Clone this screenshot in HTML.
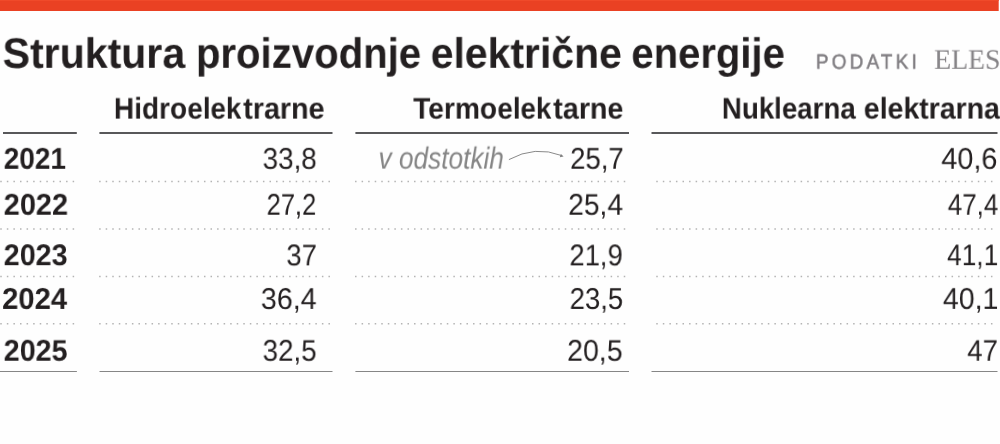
<!DOCTYPE html>
<html><head><meta charset="utf-8"><title>Struktura proizvodnje električne energije</title>
<style>
html,body{margin:0;padding:0;}
body{width:1000px;height:444px;background:#fefefe;position:relative;overflow:hidden;font-family:"Liberation Sans",sans-serif;color:#231f20;}
.t{position:absolute;white-space:nowrap;line-height:1;transform-origin:0 0;will-change:transform;text-rendering:geometricPrecision;}
svg{position:absolute;left:0;top:0;}
</style></head><body>
<svg width="1000" height="444" viewBox="0 0 1000 444">
<rect x="0" y="0" width="998.7" height="11" fill="#ea4123"/>
<rect x="0" y="0" width="998.7" height="1" fill="#f04a2a"/>
<path d="M3.0,133H76.8 M99.4,133H332.5 M355.4,133H629 M651.5,133H997.5" stroke="#58585a" stroke-width="1.8" fill="none"/>
<path d="M0,371.5H76.9 M99.5,371.5H332.5 M355.4,371.5H629 M651.5,371.5H997.5" stroke="#868686" stroke-width="1" fill="none"/>
<path d="M0.25,181.6h1.5 M6.83,181.6h1.5 M13.41,181.6h1.5 M20.00,181.6h1.5 M26.58,181.6h1.5 M33.16,181.6h1.5 M39.74,181.6h1.5 M46.32,181.6h1.5 M52.90,181.6h1.5 M59.49,181.6h1.5 M66.07,181.6h1.5 M72.65,181.6h1.5 M99.15,181.6h1.5 M105.70,181.6h1.5 M112.25,181.6h1.5 M118.80,181.6h1.5 M125.36,181.6h1.5 M131.91,181.6h1.5 M138.46,181.6h1.5 M145.01,181.6h1.5 M151.56,181.6h1.5 M158.11,181.6h1.5 M164.66,181.6h1.5 M171.22,181.6h1.5 M177.77,181.6h1.5 M184.32,181.6h1.5 M190.87,181.6h1.5 M197.42,181.6h1.5 M203.97,181.6h1.5 M210.52,181.6h1.5 M217.08,181.6h1.5 M223.63,181.6h1.5 M230.18,181.6h1.5 M236.73,181.6h1.5 M243.28,181.6h1.5 M249.83,181.6h1.5 M256.38,181.6h1.5 M262.94,181.6h1.5 M269.49,181.6h1.5 M276.04,181.6h1.5 M282.59,181.6h1.5 M289.14,181.6h1.5 M295.69,181.6h1.5 M302.24,181.6h1.5 M308.80,181.6h1.5 M315.35,181.6h1.5 M321.90,181.6h1.5 M328.45,181.6h1.5 M355.05,181.6h1.5 M361.60,181.6h1.5 M368.16,181.6h1.5 M374.71,181.6h1.5 M381.26,181.6h1.5 M387.82,181.6h1.5 M394.37,181.6h1.5 M400.93,181.6h1.5 M407.48,181.6h1.5 M414.03,181.6h1.5 M420.59,181.6h1.5 M427.14,181.6h1.5 M433.69,181.6h1.5 M440.25,181.6h1.5 M446.80,181.6h1.5 M453.35,181.6h1.5 M459.91,181.6h1.5 M466.46,181.6h1.5 M473.02,181.6h1.5 M479.57,181.6h1.5 M486.12,181.6h1.5 M492.68,181.6h1.5 M499.23,181.6h1.5 M505.78,181.6h1.5 M512.34,181.6h1.5 M518.89,181.6h1.5 M525.45,181.6h1.5 M532.00,181.6h1.5 M538.55,181.6h1.5 M545.11,181.6h1.5 M551.66,181.6h1.5 M558.21,181.6h1.5 M564.77,181.6h1.5 M571.32,181.6h1.5 M577.87,181.6h1.5 M584.43,181.6h1.5 M590.98,181.6h1.5 M597.54,181.6h1.5 M604.09,181.6h1.5 M610.64,181.6h1.5 M617.20,181.6h1.5 M623.75,181.6h1.5 M656.25,181.6h1.5 M662.81,181.6h1.5 M669.38,181.6h1.5 M675.94,181.6h1.5 M682.50,181.6h1.5 M689.06,181.6h1.5 M695.63,181.6h1.5 M702.19,181.6h1.5 M708.75,181.6h1.5 M715.31,181.6h1.5 M721.88,181.6h1.5 M728.44,181.6h1.5 M735.00,181.6h1.5 M741.57,181.6h1.5 M748.13,181.6h1.5 M754.69,181.6h1.5 M761.25,181.6h1.5 M767.82,181.6h1.5 M774.38,181.6h1.5 M780.94,181.6h1.5 M787.50,181.6h1.5 M794.07,181.6h1.5 M800.63,181.6h1.5 M807.19,181.6h1.5 M813.76,181.6h1.5 M820.32,181.6h1.5 M826.88,181.6h1.5 M833.44,181.6h1.5 M840.01,181.6h1.5 M846.57,181.6h1.5 M853.13,181.6h1.5 M859.70,181.6h1.5 M866.26,181.6h1.5 M872.82,181.6h1.5 M879.38,181.6h1.5 M885.95,181.6h1.5 M892.51,181.6h1.5 M899.07,181.6h1.5 M905.63,181.6h1.5 M912.20,181.6h1.5 M918.76,181.6h1.5 M925.32,181.6h1.5 M931.89,181.6h1.5 M938.45,181.6h1.5 M945.01,181.6h1.5 M951.57,181.6h1.5 M958.14,181.6h1.5 M964.70,181.6h1.5 M971.26,181.6h1.5 M977.82,181.6h1.5 M984.39,181.6h1.5 M990.95,181.6h1.5 M0.25,228.9h1.5 M6.83,228.9h1.5 M13.41,228.9h1.5 M20.00,228.9h1.5 M26.58,228.9h1.5 M33.16,228.9h1.5 M39.74,228.9h1.5 M46.32,228.9h1.5 M52.90,228.9h1.5 M59.49,228.9h1.5 M66.07,228.9h1.5 M72.65,228.9h1.5 M99.15,228.9h1.5 M105.70,228.9h1.5 M112.25,228.9h1.5 M118.80,228.9h1.5 M125.36,228.9h1.5 M131.91,228.9h1.5 M138.46,228.9h1.5 M145.01,228.9h1.5 M151.56,228.9h1.5 M158.11,228.9h1.5 M164.66,228.9h1.5 M171.22,228.9h1.5 M177.77,228.9h1.5 M184.32,228.9h1.5 M190.87,228.9h1.5 M197.42,228.9h1.5 M203.97,228.9h1.5 M210.52,228.9h1.5 M217.08,228.9h1.5 M223.63,228.9h1.5 M230.18,228.9h1.5 M236.73,228.9h1.5 M243.28,228.9h1.5 M249.83,228.9h1.5 M256.38,228.9h1.5 M262.94,228.9h1.5 M269.49,228.9h1.5 M276.04,228.9h1.5 M282.59,228.9h1.5 M289.14,228.9h1.5 M295.69,228.9h1.5 M302.24,228.9h1.5 M308.80,228.9h1.5 M315.35,228.9h1.5 M321.90,228.9h1.5 M328.45,228.9h1.5 M355.05,228.9h1.5 M361.60,228.9h1.5 M368.16,228.9h1.5 M374.71,228.9h1.5 M381.26,228.9h1.5 M387.82,228.9h1.5 M394.37,228.9h1.5 M400.93,228.9h1.5 M407.48,228.9h1.5 M414.03,228.9h1.5 M420.59,228.9h1.5 M427.14,228.9h1.5 M433.69,228.9h1.5 M440.25,228.9h1.5 M446.80,228.9h1.5 M453.35,228.9h1.5 M459.91,228.9h1.5 M466.46,228.9h1.5 M473.02,228.9h1.5 M479.57,228.9h1.5 M486.12,228.9h1.5 M492.68,228.9h1.5 M499.23,228.9h1.5 M505.78,228.9h1.5 M512.34,228.9h1.5 M518.89,228.9h1.5 M525.45,228.9h1.5 M532.00,228.9h1.5 M538.55,228.9h1.5 M545.11,228.9h1.5 M551.66,228.9h1.5 M558.21,228.9h1.5 M564.77,228.9h1.5 M571.32,228.9h1.5 M577.87,228.9h1.5 M584.43,228.9h1.5 M590.98,228.9h1.5 M597.54,228.9h1.5 M604.09,228.9h1.5 M610.64,228.9h1.5 M617.20,228.9h1.5 M623.75,228.9h1.5 M656.25,228.9h1.5 M662.81,228.9h1.5 M669.38,228.9h1.5 M675.94,228.9h1.5 M682.50,228.9h1.5 M689.06,228.9h1.5 M695.63,228.9h1.5 M702.19,228.9h1.5 M708.75,228.9h1.5 M715.31,228.9h1.5 M721.88,228.9h1.5 M728.44,228.9h1.5 M735.00,228.9h1.5 M741.57,228.9h1.5 M748.13,228.9h1.5 M754.69,228.9h1.5 M761.25,228.9h1.5 M767.82,228.9h1.5 M774.38,228.9h1.5 M780.94,228.9h1.5 M787.50,228.9h1.5 M794.07,228.9h1.5 M800.63,228.9h1.5 M807.19,228.9h1.5 M813.76,228.9h1.5 M820.32,228.9h1.5 M826.88,228.9h1.5 M833.44,228.9h1.5 M840.01,228.9h1.5 M846.57,228.9h1.5 M853.13,228.9h1.5 M859.70,228.9h1.5 M866.26,228.9h1.5 M872.82,228.9h1.5 M879.38,228.9h1.5 M885.95,228.9h1.5 M892.51,228.9h1.5 M899.07,228.9h1.5 M905.63,228.9h1.5 M912.20,228.9h1.5 M918.76,228.9h1.5 M925.32,228.9h1.5 M931.89,228.9h1.5 M938.45,228.9h1.5 M945.01,228.9h1.5 M951.57,228.9h1.5 M958.14,228.9h1.5 M964.70,228.9h1.5 M971.26,228.9h1.5 M977.82,228.9h1.5 M984.39,228.9h1.5 M990.95,228.9h1.5 M0.25,276.4h1.5 M6.83,276.4h1.5 M13.41,276.4h1.5 M20.00,276.4h1.5 M26.58,276.4h1.5 M33.16,276.4h1.5 M39.74,276.4h1.5 M46.32,276.4h1.5 M52.90,276.4h1.5 M59.49,276.4h1.5 M66.07,276.4h1.5 M72.65,276.4h1.5 M99.15,276.4h1.5 M105.70,276.4h1.5 M112.25,276.4h1.5 M118.80,276.4h1.5 M125.36,276.4h1.5 M131.91,276.4h1.5 M138.46,276.4h1.5 M145.01,276.4h1.5 M151.56,276.4h1.5 M158.11,276.4h1.5 M164.66,276.4h1.5 M171.22,276.4h1.5 M177.77,276.4h1.5 M184.32,276.4h1.5 M190.87,276.4h1.5 M197.42,276.4h1.5 M203.97,276.4h1.5 M210.52,276.4h1.5 M217.08,276.4h1.5 M223.63,276.4h1.5 M230.18,276.4h1.5 M236.73,276.4h1.5 M243.28,276.4h1.5 M249.83,276.4h1.5 M256.38,276.4h1.5 M262.94,276.4h1.5 M269.49,276.4h1.5 M276.04,276.4h1.5 M282.59,276.4h1.5 M289.14,276.4h1.5 M295.69,276.4h1.5 M302.24,276.4h1.5 M308.80,276.4h1.5 M315.35,276.4h1.5 M321.90,276.4h1.5 M328.45,276.4h1.5 M355.05,276.4h1.5 M361.60,276.4h1.5 M368.16,276.4h1.5 M374.71,276.4h1.5 M381.26,276.4h1.5 M387.82,276.4h1.5 M394.37,276.4h1.5 M400.93,276.4h1.5 M407.48,276.4h1.5 M414.03,276.4h1.5 M420.59,276.4h1.5 M427.14,276.4h1.5 M433.69,276.4h1.5 M440.25,276.4h1.5 M446.80,276.4h1.5 M453.35,276.4h1.5 M459.91,276.4h1.5 M466.46,276.4h1.5 M473.02,276.4h1.5 M479.57,276.4h1.5 M486.12,276.4h1.5 M492.68,276.4h1.5 M499.23,276.4h1.5 M505.78,276.4h1.5 M512.34,276.4h1.5 M518.89,276.4h1.5 M525.45,276.4h1.5 M532.00,276.4h1.5 M538.55,276.4h1.5 M545.11,276.4h1.5 M551.66,276.4h1.5 M558.21,276.4h1.5 M564.77,276.4h1.5 M571.32,276.4h1.5 M577.87,276.4h1.5 M584.43,276.4h1.5 M590.98,276.4h1.5 M597.54,276.4h1.5 M604.09,276.4h1.5 M610.64,276.4h1.5 M617.20,276.4h1.5 M623.75,276.4h1.5 M656.25,276.4h1.5 M662.81,276.4h1.5 M669.38,276.4h1.5 M675.94,276.4h1.5 M682.50,276.4h1.5 M689.06,276.4h1.5 M695.63,276.4h1.5 M702.19,276.4h1.5 M708.75,276.4h1.5 M715.31,276.4h1.5 M721.88,276.4h1.5 M728.44,276.4h1.5 M735.00,276.4h1.5 M741.57,276.4h1.5 M748.13,276.4h1.5 M754.69,276.4h1.5 M761.25,276.4h1.5 M767.82,276.4h1.5 M774.38,276.4h1.5 M780.94,276.4h1.5 M787.50,276.4h1.5 M794.07,276.4h1.5 M800.63,276.4h1.5 M807.19,276.4h1.5 M813.76,276.4h1.5 M820.32,276.4h1.5 M826.88,276.4h1.5 M833.44,276.4h1.5 M840.01,276.4h1.5 M846.57,276.4h1.5 M853.13,276.4h1.5 M859.70,276.4h1.5 M866.26,276.4h1.5 M872.82,276.4h1.5 M879.38,276.4h1.5 M885.95,276.4h1.5 M892.51,276.4h1.5 M899.07,276.4h1.5 M905.63,276.4h1.5 M912.20,276.4h1.5 M918.76,276.4h1.5 M925.32,276.4h1.5 M931.89,276.4h1.5 M938.45,276.4h1.5 M945.01,276.4h1.5 M951.57,276.4h1.5 M958.14,276.4h1.5 M964.70,276.4h1.5 M971.26,276.4h1.5 M977.82,276.4h1.5 M984.39,276.4h1.5 M990.95,276.4h1.5 M0.25,323.7h1.5 M6.83,323.7h1.5 M13.41,323.7h1.5 M20.00,323.7h1.5 M26.58,323.7h1.5 M33.16,323.7h1.5 M39.74,323.7h1.5 M46.32,323.7h1.5 M52.90,323.7h1.5 M59.49,323.7h1.5 M66.07,323.7h1.5 M72.65,323.7h1.5 M99.15,323.7h1.5 M105.70,323.7h1.5 M112.25,323.7h1.5 M118.80,323.7h1.5 M125.36,323.7h1.5 M131.91,323.7h1.5 M138.46,323.7h1.5 M145.01,323.7h1.5 M151.56,323.7h1.5 M158.11,323.7h1.5 M164.66,323.7h1.5 M171.22,323.7h1.5 M177.77,323.7h1.5 M184.32,323.7h1.5 M190.87,323.7h1.5 M197.42,323.7h1.5 M203.97,323.7h1.5 M210.52,323.7h1.5 M217.08,323.7h1.5 M223.63,323.7h1.5 M230.18,323.7h1.5 M236.73,323.7h1.5 M243.28,323.7h1.5 M249.83,323.7h1.5 M256.38,323.7h1.5 M262.94,323.7h1.5 M269.49,323.7h1.5 M276.04,323.7h1.5 M282.59,323.7h1.5 M289.14,323.7h1.5 M295.69,323.7h1.5 M302.24,323.7h1.5 M308.80,323.7h1.5 M315.35,323.7h1.5 M321.90,323.7h1.5 M328.45,323.7h1.5 M355.05,323.7h1.5 M361.60,323.7h1.5 M368.16,323.7h1.5 M374.71,323.7h1.5 M381.26,323.7h1.5 M387.82,323.7h1.5 M394.37,323.7h1.5 M400.93,323.7h1.5 M407.48,323.7h1.5 M414.03,323.7h1.5 M420.59,323.7h1.5 M427.14,323.7h1.5 M433.69,323.7h1.5 M440.25,323.7h1.5 M446.80,323.7h1.5 M453.35,323.7h1.5 M459.91,323.7h1.5 M466.46,323.7h1.5 M473.02,323.7h1.5 M479.57,323.7h1.5 M486.12,323.7h1.5 M492.68,323.7h1.5 M499.23,323.7h1.5 M505.78,323.7h1.5 M512.34,323.7h1.5 M518.89,323.7h1.5 M525.45,323.7h1.5 M532.00,323.7h1.5 M538.55,323.7h1.5 M545.11,323.7h1.5 M551.66,323.7h1.5 M558.21,323.7h1.5 M564.77,323.7h1.5 M571.32,323.7h1.5 M577.87,323.7h1.5 M584.43,323.7h1.5 M590.98,323.7h1.5 M597.54,323.7h1.5 M604.09,323.7h1.5 M610.64,323.7h1.5 M617.20,323.7h1.5 M623.75,323.7h1.5 M656.25,323.7h1.5 M662.81,323.7h1.5 M669.38,323.7h1.5 M675.94,323.7h1.5 M682.50,323.7h1.5 M689.06,323.7h1.5 M695.63,323.7h1.5 M702.19,323.7h1.5 M708.75,323.7h1.5 M715.31,323.7h1.5 M721.88,323.7h1.5 M728.44,323.7h1.5 M735.00,323.7h1.5 M741.57,323.7h1.5 M748.13,323.7h1.5 M754.69,323.7h1.5 M761.25,323.7h1.5 M767.82,323.7h1.5 M774.38,323.7h1.5 M780.94,323.7h1.5 M787.50,323.7h1.5 M794.07,323.7h1.5 M800.63,323.7h1.5 M807.19,323.7h1.5 M813.76,323.7h1.5 M820.32,323.7h1.5 M826.88,323.7h1.5 M833.44,323.7h1.5 M840.01,323.7h1.5 M846.57,323.7h1.5 M853.13,323.7h1.5 M859.70,323.7h1.5 M866.26,323.7h1.5 M872.82,323.7h1.5 M879.38,323.7h1.5 M885.95,323.7h1.5 M892.51,323.7h1.5 M899.07,323.7h1.5 M905.63,323.7h1.5 M912.20,323.7h1.5 M918.76,323.7h1.5 M925.32,323.7h1.5 M931.89,323.7h1.5 M938.45,323.7h1.5 M945.01,323.7h1.5 M951.57,323.7h1.5 M958.14,323.7h1.5 M964.70,323.7h1.5 M971.26,323.7h1.5 M977.82,323.7h1.5 M984.39,323.7h1.5 M990.95,323.7h1.5" stroke="#b4b4b4" stroke-width="1.5" fill="none"/>
<path d="M508.9,159.6 Q535,145.2 561.8,155.6" stroke="#7c7c7c" stroke-width="0.9" fill="none"/>
<path d="M563.6,156.5 L559.8,157.2 L560.9,153.9 Z" fill="#808080"/>
</svg>
<div class="t" style="left:2px;top:32px;font-size:42.6px;transform:translate(0.6px,0.78px) scaleX(0.9639);font-weight:bold;">Struktura</div>
<div class="t" style="left:195px;top:32px;font-size:42.6px;transform:translate(0.93px,0.78px) scaleX(0.9422);font-weight:bold;">proizvodnje</div>
<div class="t" style="left:430px;top:32px;font-size:42.6px;transform:translate(0.72px,0.77px) scaleX(0.9605);font-weight:bold;">električne</div>
<div class="t" style="left:631px;top:32px;font-size:42.6px;transform:translate(0.38px,0.77px) scaleX(0.9391);font-weight:bold;">energije</div>
<div class="t" style="left:815px;top:52px;font-size:20.6px;transform:translate(0.9px,0.68px) scaleX(0.9174);color:#807e82;letter-spacing:0.17em;-webkit-text-stroke:0.5px #807e82;">PODATKI</div>
<div class="t" style="left:934px;top:46px;font-size:28.28px;transform:translate(0.17px,0.78px) scaleX(0.9829);font-family:'Liberation Serif',serif;color:#868487;">ELES</div>
<div class="t" style="left:113px;top:94px;font-size:29.96px;transform:translate(0.92px,0.59px) scaleX(0.9341);font-weight:bold;">Hidro</div>
<div class="t" style="left:187px;top:94px;font-size:29.96px;transform:translate(0.41px,0.59px) scaleX(0.9231);font-weight:bold;">elek</div>
<div class="t" style="left:243px;top:94px;font-size:29.96px;transform:translate(0.2px,0.59px) scaleX(0.9576);font-weight:bold;">trarne</div>
<div class="t" style="left:413px;top:94px;font-size:29.96px;transform:translate(0.21px,0.59px) scaleX(0.9379);font-weight:bold;">Termo</div>
<div class="t" style="left:497px;top:94px;font-size:29.96px;transform:translate(0.41px,0.59px) scaleX(0.9231);font-weight:bold;">elek</div>
<div class="t" style="left:553px;top:94px;font-size:29.96px;transform:translate(0.2px,0.59px) scaleX(0.9587);font-weight:bold;">tarne</div>
<div class="t" style="left:721px;top:94px;font-size:29.96px;transform:translate(0.85px,0.55px) scaleX(0.9236);font-weight:bold;">Nuklearna</div>
<div class="t" style="left:863px;top:94px;font-size:29.96px;transform:translate(0.76px,0.55px) scaleX(0.9506);font-weight:bold;">elektrarna</div>
<div class="t" style="left:3px;top:144px;font-size:30.11px;transform:translate(0.71px,0.77px) scaleX(0.9295);font-weight:bold;">2021</div>
<div class="t" style="left:3px;top:190px;font-size:29.96px;transform:translate(0.7px,0.73px) scaleX(0.9655);font-weight:bold;">2022</div>
<div class="t" style="left:3px;top:241px;font-size:29.96px;transform:translate(0.7px,0.17px) scaleX(0.9582);font-weight:bold;">2023</div>
<div class="t" style="left:2px;top:284px;font-size:30.11px;transform:translate(0.07px,0.9px) scaleX(0.9708);font-weight:bold;">2024</div>
<div class="t" style="left:3px;top:336px;font-size:29.96px;transform:translate(0.7px,0.73px) scaleX(0.9577);font-weight:bold;">2025</div>
<div class="t" style="left:262px;top:144px;font-size:30.11px;transform:translate(0.61px,0.78px) scaleX(0.9248);">33,8</div>
<div class="t" style="left:266px;top:190px;font-size:29.96px;transform:translate(0.62px,0.7px) scaleX(0.8502);">27,2</div>
<div class="t" style="left:286px;top:241px;font-size:29.96px;transform:translate(0.38px,0.34px) scaleX(0.915);">37</div>
<div class="t" style="left:260px;top:284px;font-size:30.11px;transform:translate(0.83px,0.88px) scaleX(0.9538);">36,4</div>
<div class="t" style="left:262px;top:336px;font-size:29.96px;transform:translate(0.6px,0.69px) scaleX(0.9252);">32,5</div>
<div class="t" style="left:570px;top:144px;font-size:30.11px;transform:translate(0.11px,0.75px) scaleX(0.9152);">25,7</div>
<div class="t" style="left:568px;top:190px;font-size:29.96px;transform:translate(0.2px,0.7px) scaleX(0.9393);">25,4</div>
<div class="t" style="left:569px;top:241px;font-size:29.96px;transform:translate(0.39px,0.35px) scaleX(0.9143);">21,9</div>
<div class="t" style="left:569px;top:284px;font-size:30.11px;transform:translate(0.63px,0.9px) scaleX(0.9145);">23,5</div>
<div class="t" style="left:567px;top:336px;font-size:29.96px;transform:translate(0.07px,0.69px) scaleX(0.9527);">20,5</div>
<div class="t" style="left:941px;top:144px;font-size:30.11px;transform:translate(0.28px,0.76px) scaleX(0.9586);">40,6</div>
<div class="t" style="left:947px;top:190px;font-size:29.96px;transform:translate(0.78px,0.69px) scaleX(0.8651);">47,4</div>
<div class="t" style="left:947px;top:241px;font-size:29.96px;transform:translate(0.04px,0.15px) scaleX(0.8782);">41,1</div>
<div class="t" style="left:942px;top:284px;font-size:30.11px;transform:translate(0.86px,0.87px) scaleX(0.9487);">40,1</div>
<div class="t" style="left:967px;top:336px;font-size:29.96px;transform:translate(0.25px,0.69px) scaleX(0.9185);">47</div>
<div class="t" style="left:378px;top:143px;font-size:30.55px;transform:translate(0.53px,0.61px) scaleX(0.8584);font-style:italic;color:#858585;">v odstotkih</div>
</body></html>
